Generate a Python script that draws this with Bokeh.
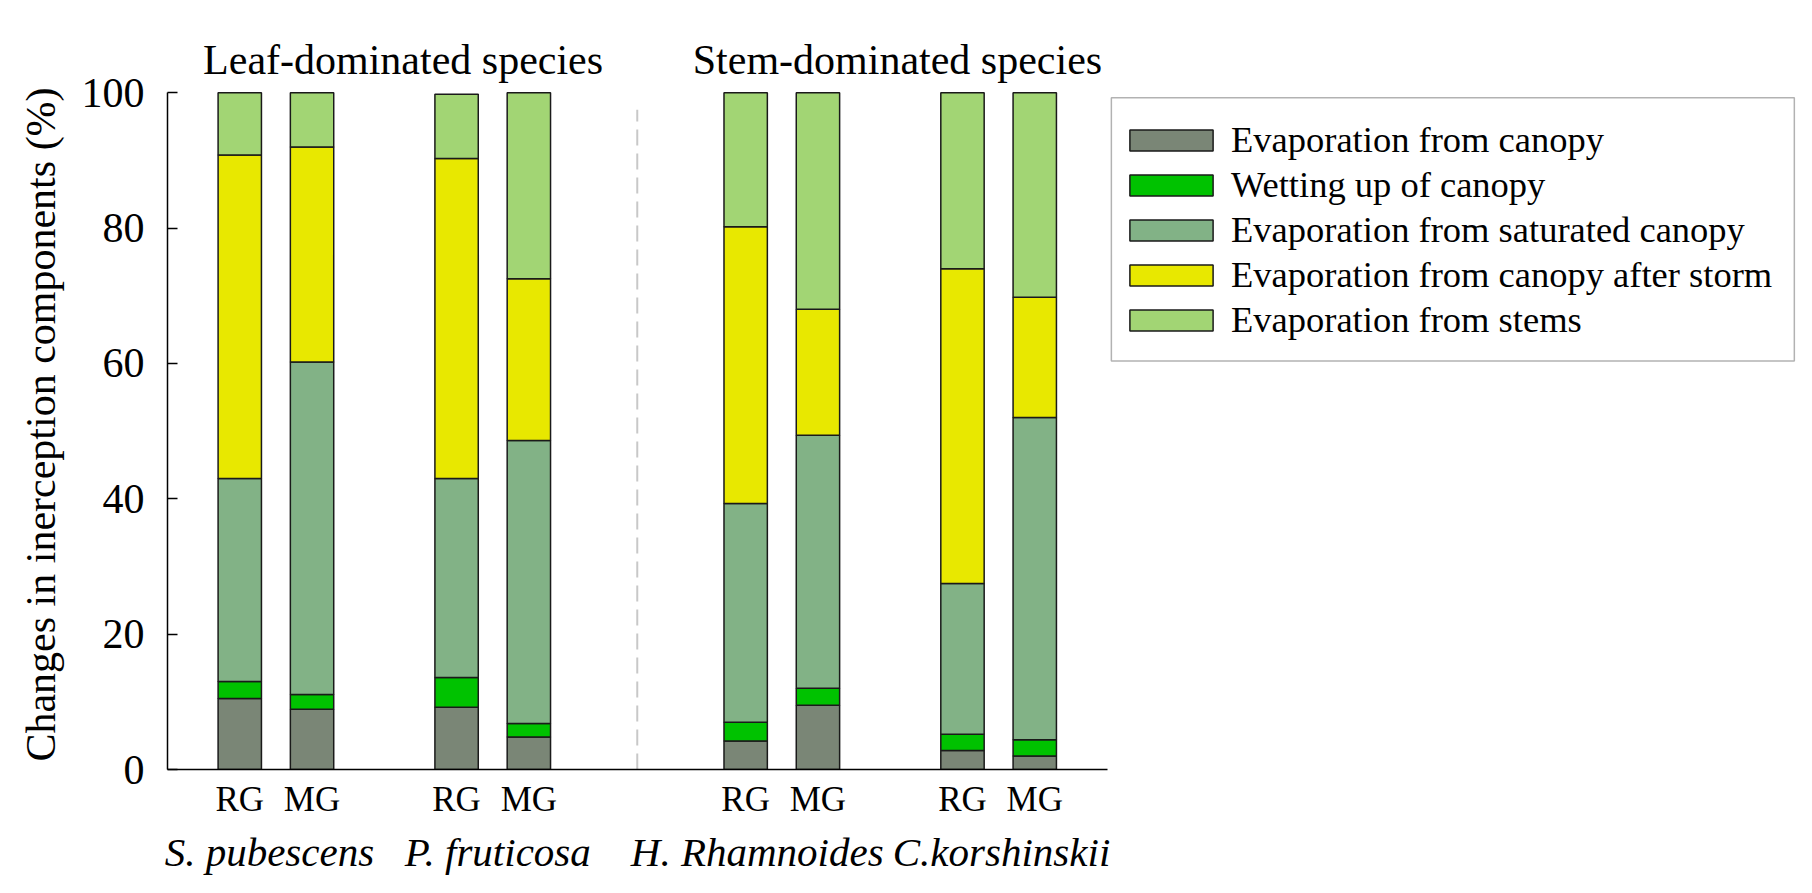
import math
from bokeh.plotting import figure
from bokeh.layouts import row
from bokeh.models import ColumnDataSource, FixedTicker, LinearAxis, Range1d, Label, BoxAnnotation
from bokeh.embed import file_html
from bokeh.resources import INLINE

# ---- data ----
species = ["S. pubescens", "P. fruticosa", "H. Rhamnoides", "C.korshinskii"]
groups = ["RG", "MG"]
group_headers = ["Leaf-dominated species", "Stem-dominated species"]
y_title = "Changes in inerception components (%)"
components = ["Evaporation from canopy", "Wetting up of canopy",
              "Evaporation from saturated canopy",
              "Evaporation from canopy after storm", "Evaporation from stems"]
# order of bars: S.pub RG, S.pub MG, P.fru RG, P.fru MG, H.rha RG, H.rha MG, C.kor RG, C.kor MG
evap_canopy    = [10.5, 8.9, 9.2, 4.8, 4.2, 9.5, 2.8, 2.0]
wetting_up     = [2.5, 2.2, 4.4, 2.0, 2.8, 2.5, 2.4, 2.4]
evap_saturated = [30.0, 49.1, 29.4, 41.8, 32.3, 37.4, 22.3, 47.6]
evap_after     = [47.8, 31.8, 47.3, 23.9, 40.9, 18.6, 46.5, 17.8]
evap_stems     = [9.2, 8.0, 9.5, 27.5, 19.8, 32.0, 26.0, 30.2]
y_ticks = [0, 20, 40, 60, 80, 100]

colors = ["#7a8676", "#00c200", "#82b286", "#e8e800", "#a2d574"]
FONT = "Liberation Serif"

H = 877
TW = 70  # width of the strip that holds the y title

# bar positions: pairs separated by gaps, extra gap between leaf and stem groups
xs, labels_x = [], {}
pair_centers = []
for i, sp in enumerate(species):
    base = 3 * i + (1 if i >= 2 else 0)
    for j, g in enumerate(groups):
        xs.append(base + j)
        labels_x[base + j] = g
    pair_centers.append(base + 0.5)

keys = ["c0", "c1", "c2", "c3", "c4"]
source = ColumnDataSource(dict(x=xs, c0=evap_canopy, c1=wetting_up, c2=evap_saturated,
                               c3=evap_after, c4=evap_stems))

# main plot, y scale: 0 at 776.5 px, 100 at 93 px from the top
y_end = 110.68
p = figure(width=1796 - TW, height=H, output_backend="svg", toolbar_location=None,
           x_range=Range1d(-1, 21.54), y_range=Range1d(0, y_end),
           min_border_left=167 - TW, min_border_right=0, min_border_top=20,
           min_border_bottom=100)
p.outline_line_color = None
p.xgrid.visible = False
p.ygrid.visible = False

p.vbar_stack(keys, x="x", width=0.6, source=source, fill_color=colors,
             line_color="#1a1a1a", line_width=1.5, legend_label=components)

# separator
sep_x = (xs[3] + xs[4]) / 2
p.segment(x0=[sep_x], y0=[0], x1=[sep_x], y1=[97.5], line_color="#c8c8c8",
          line_width=2, line_dash="16 8")

# group headers
leaf_c = (xs[0] + xs[3]) / 2 + 0.26
stem_c = (xs[4] + xs[7]) / 2 + 0.1
for cx, t in zip([leaf_c, stem_c], group_headers):
    p.add_layout(Label(x=cx, y=104.83, text=t, text_align="center",
                       text_baseline="alphabetic", text_font=FONT,
                       text_font_size="42px", text_color="black"))

# y axis
ya = p.yaxis[0]
ya.ticker = FixedTicker(ticks=y_ticks)
ya.bounds = (0, 100)
ya.major_tick_in = 10
ya.major_tick_out = 0
ya.minor_tick_line_color = None
ya.major_label_standoff = 23
ya.major_label_text_font = FONT
ya.major_label_text_font_size = "42px"
ya.major_label_text_color = "black"
ya.axis_line_width = 1.5
ya.major_tick_line_width = 1.5

# x axis (RG / MG)
xa = p.xaxis[0]
xa.ticker = FixedTicker(ticks=xs)
xa.major_label_overrides = labels_x
xa.bounds = (-1, 12)
xa.major_tick_in = 0
xa.major_tick_out = 0
xa.minor_tick_line_color = None
xa.major_label_standoff = 10
xa.major_label_text_font = FONT
xa.major_label_text_font_size = "35px"
xa.major_label_text_color = "black"
xa.axis_line_width = 1.5

# species axis
sp_pos = [pair_centers[0] - 0.09, pair_centers[1] + 0.07,
          pair_centers[2] - 0.34, pair_centers[3] + 0.04]
sa = LinearAxis(ticker=FixedTicker(ticks=sp_pos),
                major_label_overrides={v: s for v, s in zip(sp_pos, species)})
sa.axis_line_color = None
sa.major_tick_line_color = None
sa.minor_tick_line_color = None
sa.major_label_standoff = 1
sa.major_label_text_font = FONT
sa.major_label_text_font_size = "41px"
sa.major_label_text_font_style = "italic"
sa.major_label_text_color = "black"
p.add_layout(sa, "below")

lg = p.legend[0]
lg.location = (952, 428)
lg.border_line_color = None
lg.background_fill_alpha = 0
lg.padding = 14
lg.spacing = 2
lg.margin = 0
lg.glyph_width = 104
lg.glyph_height = 26
lg.label_height = 26
lg.label_standoff = 8
lg.label_text_font = FONT
lg.label_text_font_size = "36.5px"
lg.label_text_color = "black"

# legend frame
p.add_layout(BoxAnnotation(left=12.06, right=21.51, top=99.27, bottom=60.35,
                           fill_alpha=0, line_color="black", line_width=1.5))

# y title strip: same vertical scale as the main plot's frame
t = figure(width=TW, height=H, output_backend="svg", toolbar_location=None,
           x_range=Range1d(0, TW), y_range=Range1d(-100 / (776.5 - 93) * (H - 776.5),
                                                    100 / (776.5 - 93) * 776.5),
           min_border=0)
t.axis.visible = False
t.grid.visible = False
t.outline_line_color = None
t.text(x=[40], y=[44.4], text=[y_title], angle=math.pi / 2, text_align="center",
       text_baseline="middle", text_font=FONT, text_font_size="42px",
       text_color="black")

layout = row(t, p, spacing=0)
open("out.html", "w").write(file_html(layout, INLINE))
